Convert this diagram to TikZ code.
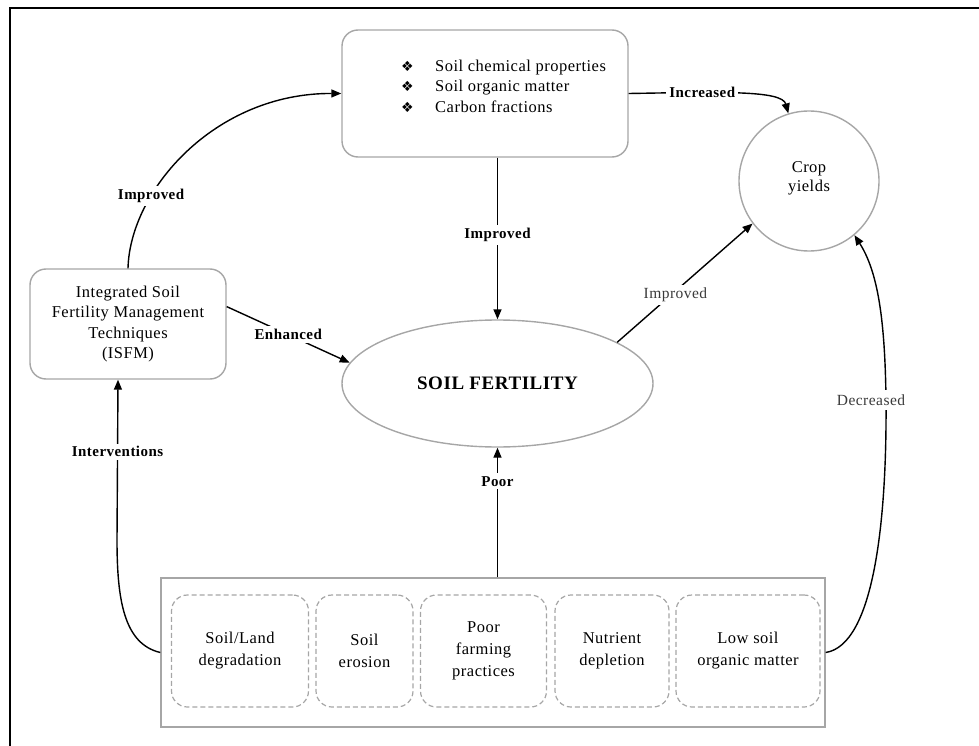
\documentclass[tikz,border=0pt]{standalone}
\usepackage{fontspec}
\setmainfont{Liberation Serif}[LetterSpace=3]
\newfontfamily\symfont{DejaVu Sans}
\usetikzlibrary{arrows.meta,shapes.geometric}
\definecolor{boxgray}{HTML}{A6A6A6}
\definecolor{lblgray}{HTML}{3A3A3A}
\begin{document}
\begin{tikzpicture}[x=1pt,y=-1pt,
  gbox/.style={draw=boxgray, line width=1.4pt, rounded corners=16pt, fill=white, inner sep=0pt, align=center,
    font=\fontsize{16.5}{20.5}\selectfont},
  dbox/.style={draw=boxgray, line width=1.2pt, dash pattern=on 5pt off 3pt, rounded corners=16pt, inner sep=0pt,
    align=center, minimum height=112pt, font=\fontsize{16.5}{22}\selectfont},
  lbl/.style={fill=white, inner sep=3pt, font=\fontsize{15}{17}\selectfont\bfseries},
  lblg/.style={fill=white, inner sep=3pt, text=lblgray, font=\fontsize{15.5}{17}\selectfont},
  conn/.style={line width=1.4pt, black},
  arr/.style={conn, -{Triangle[length=10pt,width=8pt]}}]
\useasboundingbox (0,0) rectangle (979,746);
\draw[line width=1.2pt] (10,746) -- (10,8) -- (979,8);

% nodes
\node[gbox, minimum width=286pt, minimum height=127pt] (top) at (485,93.5) {};
\node[anchor=west, inner sep=0pt, align=left, font=\fontsize{16.5}{20.5}\selectfont] (toplist) at (401,86)
  {\makebox[34pt][l]{\symfont\fontsize{14}{14}\selectfont ❖}Soil chemical properties\\
   \makebox[34pt][l]{\symfont\fontsize{14}{14}\selectfont ❖}Soil organic matter\\
   \makebox[34pt][l]{\symfont\fontsize{14}{14}\selectfont ❖}Carbon fractions};
\node[gbox, minimum width=196pt, minimum height=110pt] (isfm) at (128,324)
  {Integrated Soil\\Fertility Management\\Techniques\\(ISFM)};
\node[draw=boxgray, line width=1.4pt, ellipse, inner sep=0pt, minimum width=311pt, minimum height=127pt,
  font=\fontsize{19}{22}\selectfont\bfseries] (soil) at (497.5,383.5) {SOIL FERTILITY};
\node[draw=boxgray, line width=1.4pt, circle, inner sep=0pt, minimum size=140pt, align=center,
  font=\fontsize{16.5}{21}\selectfont] (crop) at (809,181) {\raisebox{8pt}{\shortstack{Crop\\[1pt]yields}}};
\node[draw=boxgray, line width=1.4pt, inner sep=0pt, minimum width=664pt, minimum height=149pt] (bot) at (493,652.5) {};
\node[dbox, minimum width=137pt] (b1) at (240,651) {Soil/Land\\degradation};
\node[dbox, minimum width=97pt] (b2) at (364.5,651) {Soil\\erosion};
\node[dbox, minimum width=126pt] (b3) at (483.5,651) {Poor\\farming\\practices};
\node[dbox, minimum width=114pt] (b4) at (612,651) {Nutrient\\depletion};
\node[dbox, minimum width=144pt] (b5) at (748,651) {Low soil\\organic matter};

% connectors
\draw[arr] (isfm.north) .. controls (130,190) and (215,93) .. node[lbl, pos=0.3] {Improved} (top.west);
\draw[arr] (top.south -| soil.north) -- node[lbl, pos=0.48] {Improved} (soil.north);
\draw[arr] (top.east) .. controls (720,92) and (782,90) .. node[lbl, pos=0.3] {Increased} (crop.107);
\draw[arr] (isfm.10) -- node[lbl, pos=0.5] {Enhanced} (soil.172);
\draw[arr] (soil.19.5) -- node[lblg, pos=0.43, yshift=-4pt] {Improved} (crop.217);
\draw[arr] (bot.north -| soil.south) -- node[lbl, pos=0.74] {Poor} (soil.south);
\draw[arr] (bot.west) .. controls (124,644) and (117,600) .. (117,540)
  -- node[lbl, pos=0.55] {Interventions} ([xshift=-10pt]isfm.south);
\draw[arr] (bot.east) .. controls (874,645) and (887,520) .. (886,400)
  node[lblg, xshift=-15pt, inner ysep=5pt] {Decreased}
  .. controls (885,320) and (878,272) .. (crop.-50);
\end{tikzpicture}
\end{document}
